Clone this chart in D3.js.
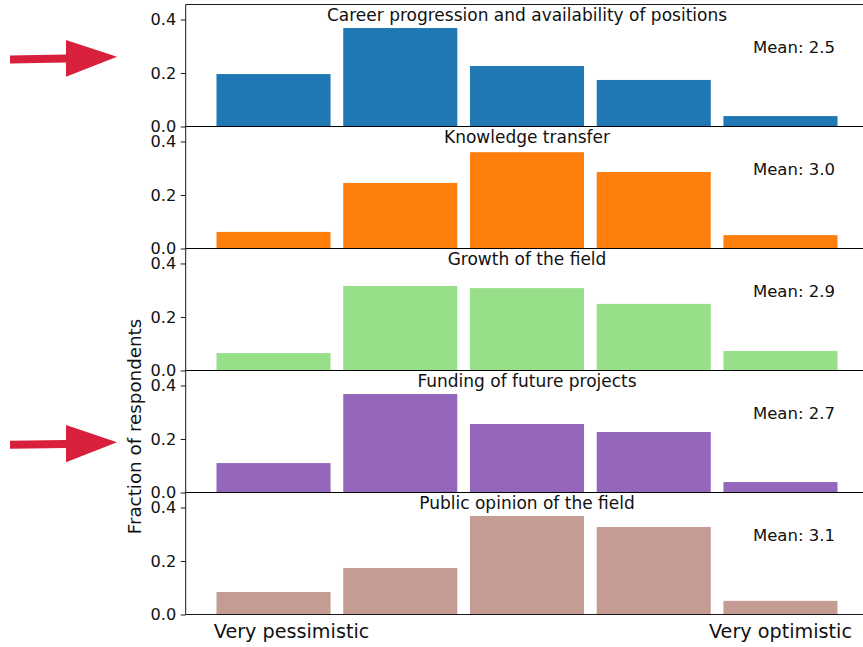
<!DOCTYPE html>
<html>
<head>
<meta charset="utf-8">
<script src="https://cdn.jsdelivr.net/npm/d3@7"></script>
<style>
  html, body { margin: 0; padding: 0; background: #fff; }
  svg { display: block; font-family: "DejaVu Sans", sans-serif; }
</style>
</head>
<body>
<svg id="chart" width="863" height="647"></svg>
<script>
// ---- data ----
const categories = [1, 2, 3, 4, 5];
const panelTitles = [
  "Career progression and availability of positions",
  "Knowledge transfer",
  "Growth of the field",
  "Funding of future projects",
  "Public opinion of the field"
];
const careerValues    = [0.196, 0.368, 0.226, 0.174, 0.039];
const knowledgeValues = [0.062, 0.245, 0.360, 0.286, 0.050];
const growthValues    = [0.065, 0.316, 0.308, 0.249, 0.073];
const fundingValues   = [0.110, 0.368, 0.256, 0.226, 0.039];
const opinionValues   = [0.084, 0.174, 0.368, 0.327, 0.051];
const meanValues = [2.5, 3.0, 2.9, 2.7, 3.1];
const panelColors = ["#1f77b4", "#ff7f0e", "#98df8a", "#9467bd", "#c49c94"];
const yTicks = [0, 0.2, 0.4];
const xTickLabels = ["Very pessimistic", "Very optimistic"];
const yLabel = "Fraction of respondents";

const seriesValues = [careerValues, knowledgeValues, growthValues, fundingValues, opinionValues];

// ---- layout ----
const svg = d3.select("#chart");
const left = 185.7, right = 868.3;
const firstTop = 4.5, panelH = 122;
const x = d3.scaleLinear().domain([0.307, 5.693]).range([left, right]);
const barW = x(1.9) - x(1);

seriesValues.forEach((vals, i) => {
  const top = firstTop + i * panelH;
  const bottom = top + panelH;
  const y = d3.scaleLinear().domain([0, 0.456]).range([bottom, top]);
  const g = svg.append("g");

  g.selectAll("rect.bar").data(vals).enter().append("rect")
    .attr("class", "bar")
    .attr("x", (d, k) => x(categories[k]) - barW / 2)
    .attr("width", barW)
    .attr("y", d => y(d))
    .attr("height", d => y(0) - y(d))
    .attr("fill", panelColors[i]);

  // y axis
  const ax = d3.axisLeft(y).tickValues(yTicks).tickFormat(d3.format(".1f"))
    .tickSize(5).tickPadding(4.5);
  const ga = g.append("g").attr("transform", `translate(${left},0)`).call(ax);
  ga.select(".domain").remove();
  ga.selectAll(".tick line").attr("stroke", "#000").attr("stroke-width", 0.9);
  ga.selectAll(".tick text").attr("font-size", 16.2).attr("fill", "#111")
    .attr("font-family", "DejaVu Sans, sans-serif");

  // spines
  g.append("line").attr("x1", left).attr("x2", left).attr("y1", top).attr("y2", bottom)
    .attr("stroke", "#000").attr("stroke-width", 0.9);
  g.append("line").attr("x1", left).attr("x2", 870).attr("y1", top).attr("y2", top)
    .attr("stroke", "#000").attr("stroke-width", 0.9);
  g.append("line").attr("x1", left).attr("x2", 870).attr("y1", bottom).attr("y2", bottom)
    .attr("stroke", "#000").attr("stroke-width", 0.9);

  // title
  g.append("text").attr("x", (left + right) / 2).attr("y", top + 16.5)
    .attr("text-anchor", "middle").attr("font-size", 17).attr("fill", "#111")
    .text(panelTitles[i]);

  // mean
  g.append("text").attr("x", 794).attr("y", top + 48.8)
    .attr("text-anchor", "middle").attr("font-size", 16.5).attr("fill", "#111")
    .text("Mean: " + meanValues[i].toFixed(1));
});

// y label (placed on 4th panel)
const labelY = firstTop + 3 * panelH + panelH / 2 - 5;
svg.append("text")
  .attr("transform", `translate(141,${labelY}) rotate(-90)`)
  .attr("text-anchor", "middle").attr("font-size", 18.3).attr("fill", "#111")
  .text(yLabel);

// x tick labels
svg.append("text").attr("x", x(1) + 18).attr("y", 638).attr("text-anchor", "middle")
  .attr("font-size", 19.2).attr("fill", "#111").text(xTickLabels[0]);
svg.append("text").attr("x", x(5)).attr("y", 638).attr("text-anchor", "middle")
  .attr("font-size", 19.2).attr("fill", "#111").text(xTickLabels[1]);

// red arrows
const arrowColor = "#d81f3c";
function arrow(yShaft0, yShaft1, yTip, yHeadTop, yHeadBot) {
  svg.append("path")
    .attr("d", `M10,${yShaft0 - 4} L66,${yShaft1 - 4} L66,${yHeadTop} L117,${yTip} L66,${yHeadBot} L66,${yShaft1 + 4} L10,${yShaft0 + 4} Z`)
    .attr("fill", arrowColor);
}
arrow(59.5, 58.5, 56.7, 40, 76.7);
arrow(444.8, 444, 442.3, 425, 462.3);
</script>
</body>
</html>
